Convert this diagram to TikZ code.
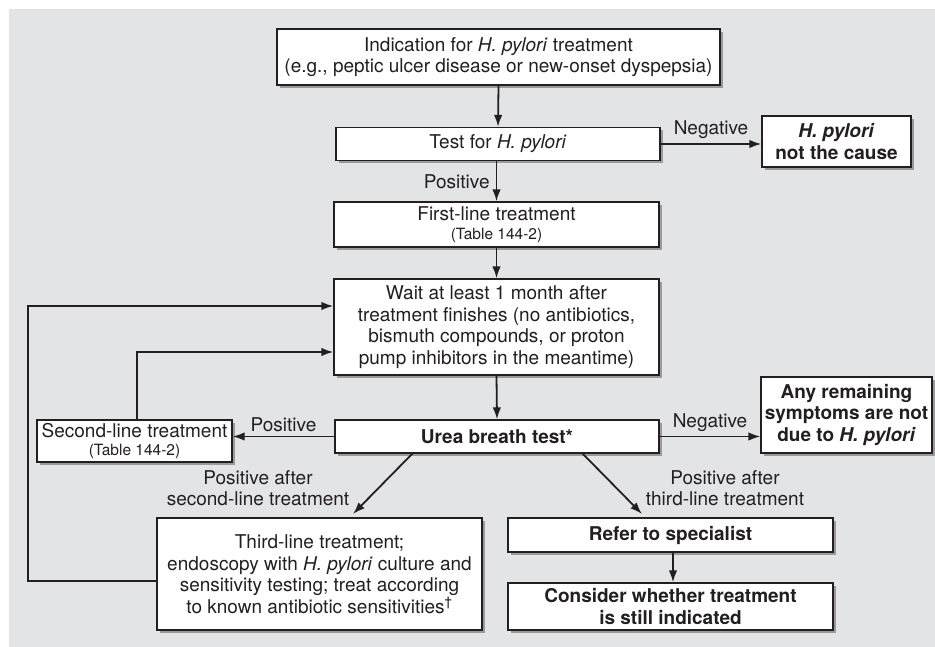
\documentclass[tikz,border=0pt]{standalone}
\usepackage{fontspec}
\setmainfont{TeX Gyre Heros}
\usetikzlibrary{arrows.meta,shadows}
\definecolor{panel}{HTML}{E3E4E6}
\definecolor{ink}{HTML}{231F20}
\definecolor{shade}{HTML}{9A9A9C}
\begin{document}
\begin{tikzpicture}[x=1pt,y=-1pt,
  box/.style={draw=ink,line width=1.3pt,fill=white,align=center,inner sep=2pt,
    text=ink,font=\fontsize{19}{21.5}\selectfont,
    drop shadow={shadow xshift=3pt,shadow yshift=-3pt,fill=shade,opacity=1}},
  boldbox/.style={box,font=\fontsize{19}{21.5}\selectfont\bfseries},
  lbl/.style={text=ink,font=\fontsize{19}{21}\selectfont,align=center,inner sep=0pt},
  arr/.style={draw=ink,line width=1.8pt,-{Latex[length=12pt,width=8.5pt]}}]
\useasboundingbox (0,0) rectangle (935,647);
\fill[panel] (9,9) rectangle (935,647);
\newcommand{\hp}{\textit{H.~pylori}}
\newcommand{\tabref}{{\fontsize{15.5}{17}\selectfont(Table 144-2)}}
\node[box,minimum width=443pt,minimum height=56pt] (ind) at (498.5,57)
  {Indication for \hp{} treatment\\(e.g., peptic ulcer disease or new-onset dyspepsia)};
\node[box,minimum width=324pt,minimum height=33pt] (test) at (498,144) {Test for \hp};
\node[boldbox,minimum width=149pt,minimum height=51pt] (notcause) at (836.5,141.5)
  {\hp\\not the cause};
\node[box,minimum width=325pt,minimum height=45pt] (first) at (496.5,224.5)
  {First-line treatment\\[-3pt]\tabref};
\node[box,minimum width=325pt,minimum height=96pt] (wait) at (496.5,327)
  {Wait at least 1 month after\\treatment finishes (no antibiotics,\\bismuth compounds, or proton\\pump inhibitors in the meantime)};
\node[boldbox,minimum width=324pt,minimum height=33pt] (urea) at (497,436.5) {Urea breath test*};
\node[box,minimum width=195pt,minimum height=42pt] (second) at (134.5,441)
  {Second-line treatment\\[-4pt]\tabref};
\node[boldbox,minimum width=171pt,minimum height=76pt] (remain) at (846.5,415)
  {Any remaining\\symptoms are not\\due to \hp};
\node[box,minimum width=325pt,minimum height=112pt] (third) at (319.5,574)
  {Third-line treatment;\\endoscopy with \hp{} culture and\\sensitivity testing; treat according\\to known antibiotic sensitivities\textsuperscript{†}};
\node[boldbox,minimum width=325pt,minimum height=34pt] (refer) at (670.5,535) {Refer to specialist};
\node[boldbox,minimum width=325pt,minimum height=47pt] (consider) at (670.5,606.5)
  {Consider whether treatment\\is still indicated};
% coordinates
\coordinate (c1) at (28,306);
\coordinate (c2) at (137,352);
\coordinate (ul) at (413,453);
\coordinate (ur) at (582,453);
\coordinate (tl) at (353,514);
\coordinate (tr) at (642,514);
% arrows
\draw[arr] (ind.south) -- (test.north);
\draw[arr] (test.east) -- (notcause.west |- test.east) node[lbl,midway,above=4pt] {Negative};
\draw[arr] (test.south -| first.north) -- (first.north) node[lbl,midway,left=6pt] {Positive};
\draw[arr] (first.south) -- (wait.north);
\draw[arr] (wait.south) -- (urea.north);
\draw[arr] (urea.west) -- (second.east |- urea.west) node[lbl,midway,above=4pt] {Positive};
\draw[arr] (urea.east) -- (remain.west |- urea.east) node[lbl,midway,above=4pt] {Negative};
\draw[arr] (second.north -| c2) -- (c2) -- (wait.west |- c2);
\draw[arr] (third.west |- 0,581) -- (c1 |- 0,581) -- (c1) -- (wait.west |- c1);
\draw[arr] (ul) -- (tl);
\draw[arr] (ur) -- (tr);
\draw[arr] (refer.south -| 673,0) -- (consider.north -| 673,0);
\node[lbl] (lp2) at (258,488) {Positive after\\second-line treatment};
\node[lbl] (lp3) at (725,488) {Positive after\\third-line treatment};
\end{tikzpicture}
\end{document}
